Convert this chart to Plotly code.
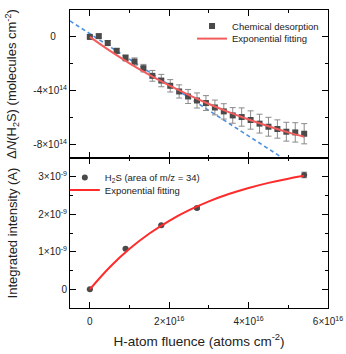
import plotly.graph_objects as go

# ---- data ----
fluence_top = [0, 0.225e16, 0.45e16, 0.675e16, 0.9e16, 1.125e16, 1.35e16, 1.575e16, 1.8e16,
               2.025e16, 2.25e16, 2.475e16, 2.7e16, 2.925e16, 3.15e16, 3.375e16, 3.6e16,
               3.825e16, 4.05e16, 4.275e16, 4.5e16, 4.725e16, 4.95e16, 5.175e16, 5.4e16]
dN = [0.0, 0.06e14, -0.45e14, -1.04e14, -1.56e14, -1.83e14, -2.32e14, -2.89e14, -3.24e14,
      -3.63e14, -4.05e14, -4.42e14, -4.72e14, -4.91e14, -5.24e14, -5.53e14, -5.83e14,
      -5.95e14, -6.17e14, -6.44e14, -6.67e14, -6.84e14, -7.04e14, -7.09e14, -7.19e14]
dN_err = [0.05e14, 0.15e14, 0.18e14, 0.2e14, 0.23e14, 0.27e14, 0.28e14, 0.4e14, 0.46e14,
          0.46e14, 0.49e14, 0.52e14, 0.56e14, 0.55e14, 0.55e14, 0.57e14, 0.58e14,
          0.68e14, 0.68e14, 0.7e14, 0.7e14, 0.68e14, 0.7e14, 0.72e14, 0.75e14]

fit_top_x = [0, 0.5e16, 1e16, 1.5e16, 2e16, 2.5e16, 3e16, 3.5e16, 4e16, 4.5e16, 5e16, 5.4e16]
fit_top_y = [0, -1.02e14, -1.96e14, -2.82e14, -3.60e14, -4.32e14, -4.98e14, -5.58e14,
             -6.13e14, -6.63e14, -7.09e14, -7.42e14]

linear_x = [-0.5e16, 4.82e16]
linear_y = [1.19e14, -8.92e14]

fluence_bot = [0, 0.9e16, 1.8e16, 2.7e16, 5.4e16]
intensity = [0.0, 1.08e-9, 1.71e-9, 2.17e-9, 3.05e-9]
intensity_err = [0.01e-9, 0.02e-9, 0.02e-9, 0.04e-9, 0.075e-9]

fit_bot_x = [0, 0.5e16, 1e16, 1.5e16, 2e16, 2.5e16, 3e16, 3.5e16, 4e16, 4.5e16, 5e16, 5.4e16]
fit_bot_y = [0, 0.589e-9, 1.080e-9, 1.488e-9, 1.828e-9, 2.110e-9, 2.345e-9, 2.541e-9,
             2.703e-9, 2.839e-9, 2.952e-9, 3.028e-9]

x_tickvals = [0, 2e16, 4e16, 6e16]
x_ticktext = ["0", "2×10<sup>16</sup>", "4×10<sup>16</sup>", "6×10<sup>16</sup>"]
ytop_tickvals = [-8e14, -4e14, 0]
ytop_ticktext = ["-8×10<sup>14</sup>", "-4×10<sup>14</sup>", "0\u00a0\u00a0\u00a0\u00a0"]
ybot_tickvals = [0, 1e-9, 2e-9, 3e-9]
ybot_ticktext = ["0", "1×10<sup>-9</sup>", "2×10<sup>-9</sup>", "3×10<sup>-9</sup>"]

FONT = "Liberation Sans, Arial, sans-serif"
TXT = "#222222"
LEG_FONT = dict(family=FONT, size=9.5, color=TXT)

fig = go.Figure()

fig.add_trace(go.Scatter(
    x=linear_x, y=linear_y, mode="lines", xaxis="x2", yaxis="y2",
    line=dict(color="#4a8fe0", width=1.6, dash="4px,3px"), showlegend=False, hoverinfo="skip"))
fig.add_trace(go.Scatter(
    x=fluence_top, y=dN, mode="markers", xaxis="x2", yaxis="y2",
    name="Chemical desorption", legend="legend",
    marker=dict(symbol="square", size=6, color="#4a4a4a"),
    error_y=dict(type="data", array=dN_err, color="#8a8a8a", thickness=1, width=3)))
fig.add_trace(go.Scatter(
    x=fit_top_x, y=fit_top_y, mode="lines", xaxis="x2", yaxis="y2",
    name="Exponential fitting", legend="legend2",
    line=dict(color="#f25c5c", width=2, shape="spline")))

fig.add_trace(go.Scatter(
    x=fluence_bot, y=intensity, mode="markers", xaxis="x", yaxis="y",
    name="H<sub>2</sub>S (area of m/z = 34)", legend="legend3",
    marker=dict(symbol="circle", size=6, color="#4a4a4a"),
    error_y=dict(type="data", array=intensity_err, color="#8a8a8a", thickness=1, width=3)))
fig.add_trace(go.Scatter(
    x=fit_bot_x, y=fit_bot_y, mode="lines", xaxis="x", yaxis="y",
    name="Exponential fitting", legend="legend4",
    line=dict(color="#ff2a2a", width=2, shape="spline")))

common = dict(showline=True, linecolor="black", linewidth=1, mirror="allticks",
              ticks="inside", ticklen=6, tickwidth=1, tickcolor="black",
              showgrid=False, zeroline=False, automargin=False,
              tickfont=dict(family=FONT, size=10, color=TXT))
minor_common = dict(ticks="inside", ticklen=3, tickcolor="black")
TITLE_FONT = dict(family=FONT, size=13.5, color=TXT)
YTITLE_FONT = dict(family=FONT, size=13, color=TXT)

split = 0.503


def leg(x, y):
    return dict(x=x, y=y, xanchor="left", yanchor="middle", bgcolor="rgba(0,0,0,0)",
                font=LEG_FONT, itemwidth=30, borderwidth=0)


fig.update_layout(
    width=346, height=354,
    margin=dict(l=70, r=18, t=10, b=46, autoexpand=False),
    paper_bgcolor="white", plot_bgcolor="white",
    font=dict(family=FONT, color=TXT),
    xaxis=dict(domain=[0, 1], anchor="y", range=[-0.5e16, 6e16],
               tickmode="array", tickvals=x_tickvals, ticktext=x_ticktext,
               ticklabelstandoff=4,
               minor=dict(tickmode="array", tickvals=[1e16, 3e16, 5e16], **minor_common),
               title=dict(text="H-atom fluence (atoms cm<sup>-2</sup>)", font=TITLE_FONT, standoff=10),
               **common),
    xaxis2=dict(domain=[0, 1], anchor="y2", matches="x", range=[-0.5e16, 6e16],
                tickmode="array", tickvals=x_tickvals, showticklabels=False,
                minor=dict(tickmode="array", tickvals=[1e16, 3e16, 5e16], **minor_common),
                **common),
    yaxis=dict(domain=[0, split], anchor="x", range=[-0.5e-9, 3.5e-9],
               tickmode="array", tickvals=ybot_tickvals, ticktext=ybot_ticktext,
               minor=dict(tickmode="array", tickvals=[-0.5e-9, 0.5e-9, 1.5e-9, 2.5e-9, 3.5e-9],
                          **minor_common),
               title=dict(text="Integrated intensity (A)", font=YTITLE_FONT, standoff=17),
               **common),
    yaxis2=dict(domain=[split, 1], anchor="x2", range=[-9e14, 2e14],
                tickmode="array", tickvals=ytop_tickvals, ticktext=ytop_ticktext,
                minor=dict(tickmode="array", tickvals=[-6e14, -2e14, 2e14], **minor_common),
                title=dict(text="Δ<i>N</i>(H<sub>2</sub>S) (molecules cm<sup>-2</sup>)",
                           font=YTITLE_FONT, standoff=13),
                **common),
    legend=leg(0.473, 0.946),
    legend2=leg(0.473, 0.904),
    legend3=leg(-0.020, 0.438),
    legend4=leg(-0.020, 0.396),
)

fig.write_html("out.html", config={"displayModeBar": False},
               post_script="document.body.style.margin='0';")
